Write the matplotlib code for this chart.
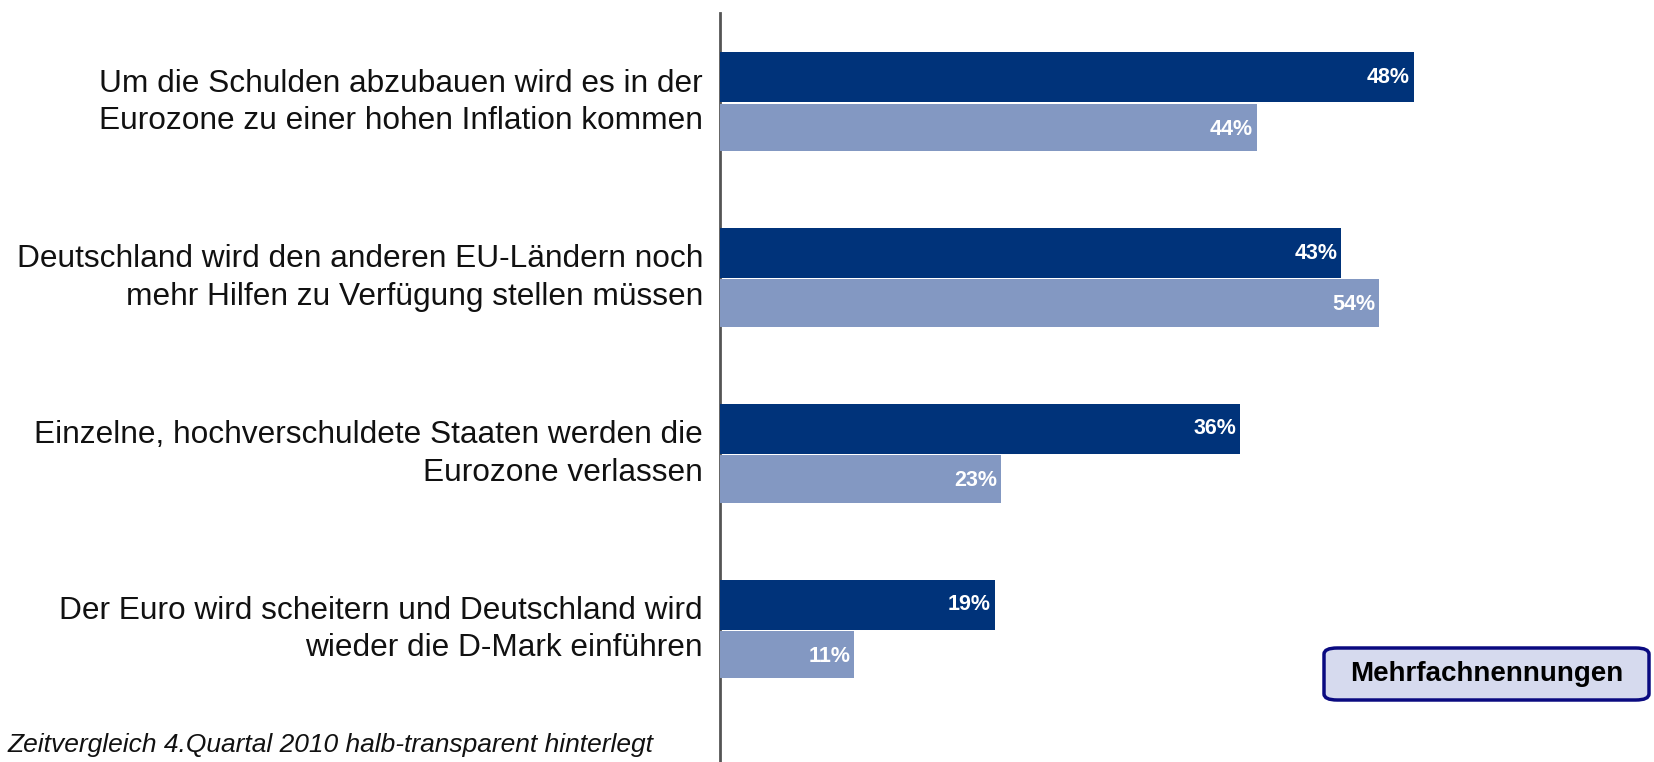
import matplotlib.pyplot as plt
from matplotlib.patches import FancyBboxPatch

plt.rcParams['font.family'] = ['Liberation Sans', 'DejaVu Sans']

# Daten
aussagen = [
    'Um die Schulden abzubauen wird es in der\nEurozone zu einer hohen Inflation kommen',
    'Deutschland wird den anderen EU-Ländern noch\nmehr Hilfen zu Verfügung stellen müssen',
    'Einzelne, hochverschuldete Staaten werden die\nEurozone verlassen',
    'Der Euro wird scheitern und Deutschland wird\nwieder die D-Mark einführen',
]
aktuell = [48, 43, 36, 19]
q4_2010 = [44, 54, 23, 11]

dunkel = '#00337a'
hell = '#8398c2'

fig = plt.figure(figsize=(16.54, 7.62), dpi=100)
W, H = 1654, 762
x0 = 720
ax = fig.add_axes([x0 / W, 0, 1 - x0 / W, 1 - 13 / H])
ax2 = ax.twiny()

# Skalen (Vergleichsbalken sind im Original anders skaliert)
breite_px = W - x0
ax.set_xlim(0, breite_px / 14.45)
ax2.set_xlim(0, breite_px / 12.2)

gap = 175.8
ax.set_ylim((762 - 102.3) / gap, (13 - 102.3) / gap)
ax2.set_ylim(ax.get_ylim())

h = 0.285
pos = list(range(len(aussagen)))
ax.barh([p - h / 2 for p in pos], aktuell, height=h, color=dunkel, zorder=3)
ax2.barh([p + h / 2 for p in pos], q4_2010, height=0.27, color=hell, zorder=2)

for p, v in zip(pos, aktuell):
    ax.text(v - 0.25, p - h / 2, f'{v}%', ha='right', va='center',
            color='white', fontsize=15.5, fontweight='bold', zorder=4)
for p, v in zip(pos, q4_2010):
    ax2.text(v - 0.3, p + h / 2 + 0.01, f'{v}%', ha='right', va='center',
             color='white', fontsize=15.5, fontweight='bold', zorder=4)

for p, t in zip(pos, aussagen):
    ax.text(-17 / 14.45, p, t, ha='right', va='center', fontsize=22.8,
            linespacing=1.33, color='#111111')

for a in (ax, ax2):
    a.set_xticks([])
    a.set_yticks([])
    for s in ('top', 'right', 'bottom'):
        a.spines[s].set_visible(False)
    a.patch.set_visible(False)
ax.spines['left'].set_color('#555555')
ax.spines['left'].set_linewidth(2)
ax2.spines['left'].set_visible(False)

fig.text(8 / W, 1 - 745 / H, 'Zeitvergleich 4.Quartal 2010 halb-transparent hinterlegt',
         fontsize=19, style='italic', ha='left', va='center', color='#111111')

box = FancyBboxPatch((1324 / W, 1 - 700 / H), 325 / W, 52 / H,
                     boxstyle='round,pad=0,rounding_size=0.008',
                     transform=fig.transFigure, facecolor='#d6daee',
                     edgecolor='#0a0a80', linewidth=2.5)
fig.patches.append(box)
fig.text(1487 / W, 1 - 674 / H, 'Mehrfachnennungen', fontsize=20,
         fontweight='bold', ha='center', va='center')

fig.savefig('out.png', dpi=100)
